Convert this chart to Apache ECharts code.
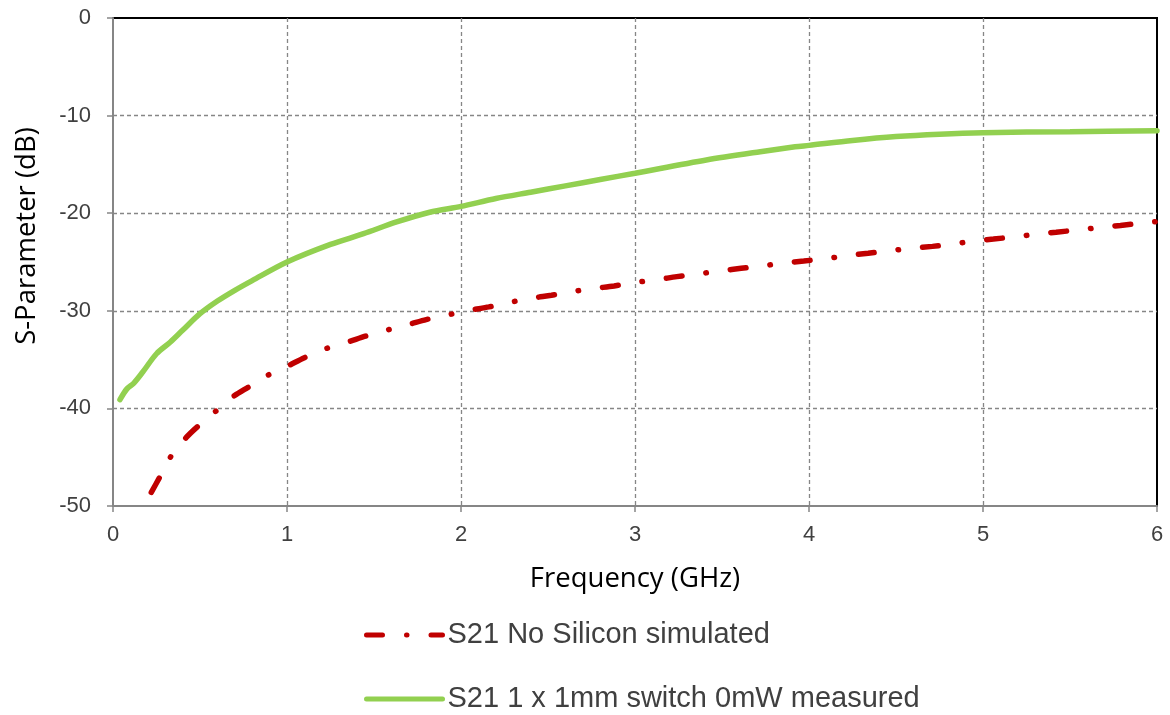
<!DOCTYPE html>
<html>
<head>
<meta charset="utf-8">
<script src="https://cdn.jsdelivr.net/npm/echarts@6/dist/echarts.min.js"></script>
<style>html,body{margin:0;padding:0;background:#fff}#c{width:1170px;height:715px}</style>
</head>
<body>
<div id="c"></div>
<script>
// Series: S21 No Silicon simulated (red, dash-dot)
const redFreq = [0.22,0.27,0.33,0.42,0.49,0.59,0.69,0.78,0.89,1.0,1.1,1.22,1.35,1.45,1.57,1.70,1.80,1.93,2.05,2.16,2.29,2.41,2.52,2.65,2.77,2.88,3.0,3.13,3.24,3.37,3.5,3.61,3.73,3.86,3.97,4.1,4.22,4.34,4.46,4.59,4.71,4.83,4.95,5.06,5.19,5.31,5.42,5.55,5.68,5.79,5.91,6.0];
const redS21  = [-48.6,-47.0,-45.0,-43.0,-41.8,-40.3,-38.8,-37.8,-36.6,-35.7,-34.8,-33.9,-33.2,-32.6,-32.0,-31.4,-30.9,-30.4,-29.95,-29.6,-29.1,-28.7,-28.4,-28.0,-27.7,-27.45,-27.1,-26.8,-26.5,-26.2,-25.9,-25.65,-25.4,-25.1,-24.9,-24.65,-24.35,-24.1,-23.85,-23.6,-23.4,-23.15,-22.85,-22.65,-22.4,-22.15,-21.95,-21.7,-21.45,-21.25,-21.0,-20.85];
// Series: S21 1 x 1mm switch 0mW measured (green, solid)
const greenFreq = [0.04,0.08,0.12,0.17,0.25,0.33,0.4,0.5,0.6,0.7,0.8,1.0,1.25,1.44,1.63,1.82,2.0,2.2,2.4,2.6,2.8,3.0,3.41,3.72,3.92,4.0,4.25,4.5,4.75,5.0,5.5,6.0];
const greenS21  = [-39.1,-38.0,-37.4,-36.3,-34.4,-33.2,-32.0,-30.3,-29.0,-27.9,-26.9,-25.0,-23.2,-22.1,-20.9,-19.9,-19.3,-18.5,-17.85,-17.2,-16.55,-15.9,-14.55,-13.7,-13.2,-13.05,-12.55,-12.15,-11.9,-11.75,-11.65,-11.55];
const seriesNames = ['S21 No Silicon simulated','S21 1 x 1mm switch 0mW measured'];
const xTitle = 'Frequency (GHz)';
const yTitle = 'S-Parameter (dB)';

const zip = (a,b) => a.map((v,i)=>[v,b[i]]);
const chart = echarts.init(document.getElementById('c'), null, {renderer:'canvas'});
const labelFont = '"Liberation Sans", Arial, sans-serif';
const titleFont = '"Open Sans", "Noto Sans", sans-serif';
const legendBase = {
  orient:'horizontal',left:364,itemWidth:76,itemHeight:30,itemGap:0,padding:0,
  itemStyle:{opacity:0,borderWidth:0},
  lineStyle:{width:5,cap:'round'},
  textStyle:{fontFamily:labelFont,fontSize:29,color:'#404040',lineHeight:30}
};
chart.setOption({
  animation:false,
  backgroundColor:'#fff',
  grid:{left:113,right:13,top:18,bottom:209,show:true,borderColor:'#000',borderWidth:2,backgroundColor:'transparent'},
  xAxis:{
    type:'value',min:0,max:6,interval:1,
    name:xTitle,nameLocation:'middle',nameGap:59,
    nameTextStyle:{fontFamily:titleFont,fontSize:27.5,color:'#000'},
    axisLine:{show:true,onZero:false,lineStyle:{color:'#868686',width:2}},
    axisTick:{show:true,length:6,lineStyle:{color:'#868686',width:1.5}},
    axisLabel:{fontFamily:labelFont,fontSize:22,color:'#404040',margin:18},
    splitLine:{show:true,showMinLine:false,showMaxLine:false,lineStyle:{color:'#868686',width:1.3,type:[4,3]}}
  },
  yAxis:{
    type:'value',min:-50,max:0,interval:10,
    axisLine:{show:true,onZero:false,lineStyle:{color:'#868686',width:2}},
    axisTick:{show:true,length:6,lineStyle:{color:'#868686',width:1.5}},
    axisLabel:{fontFamily:labelFont,fontSize:22,color:'#404040',margin:22},
    splitLine:{show:true,showMinLine:false,showMaxLine:false,lineStyle:{color:'#868686',width:1.3,type:[4,3]}}
  },
  graphic:[{
    type:'text',x:27,y:236,rotation:Math.PI/2,
    style:{text:yTitle,fontFamily:titleFont,fontSize:27.5,fill:'#000',textAlign:'center',textVerticalAlign:'middle'}
  }],
  legend:[
    Object.assign({},legendBase,{top:620,data:[seriesNames[0]]}),
    Object.assign({},legendBase,{top:684,data:[seriesNames[1]]})
  ],
  series:[
    {name:seriesNames[0],type:'line',data:zip(redFreq,redS21),showSymbol:false,symbol:'none',smooth:0.3,
     color:'#C00000',lineStyle:{color:'#C00000',width:5.5,type:[16,24,0.5,24],cap:'round'},z:3},
    {name:seriesNames[1],type:'line',data:zip(greenFreq,greenS21),showSymbol:false,symbol:'none',smooth:0.3,
     color:'#92D050',lineStyle:{color:'#92D050',width:5.5,cap:'round'},z:4}
  ]
});
</script>
</body>
</html>
